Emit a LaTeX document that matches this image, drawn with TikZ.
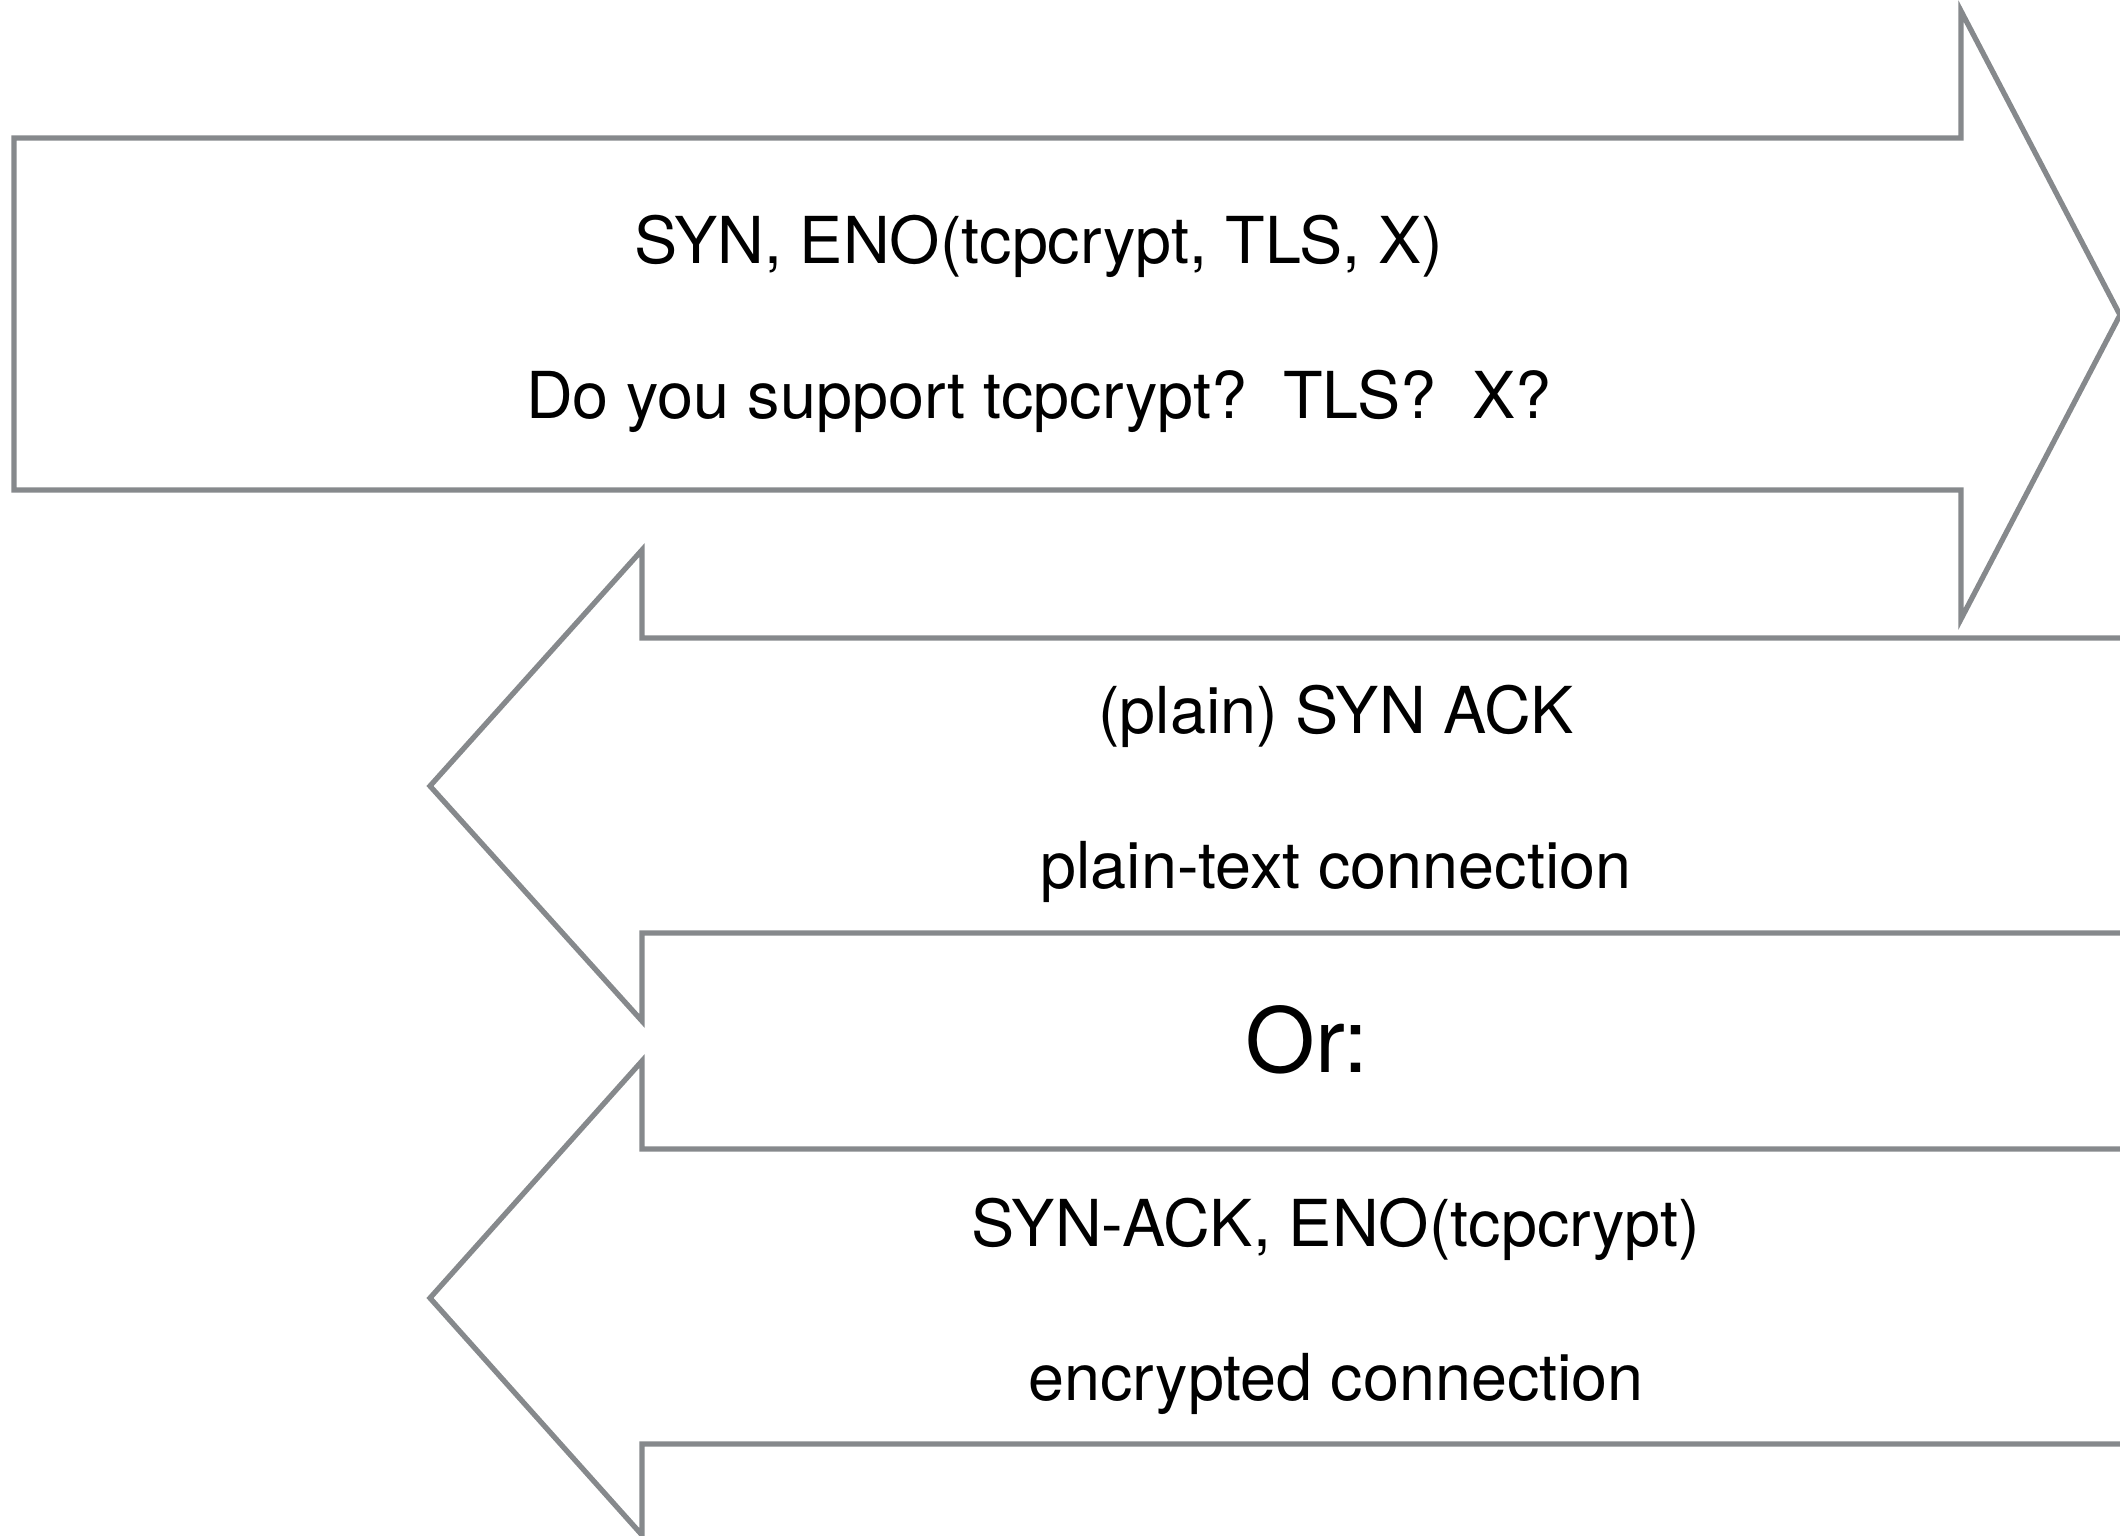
\documentclass[tikz,border=0pt]{standalone}
\usepackage{fontspec}
\setmainfont{TeX Gyre Heros}
\usepackage{tikz}

\definecolor{edgegray}{RGB}{134,137,140}
\tikzset{
  flow/.style={draw=edgegray,line width=1.5pt,line join=miter},
  msg/.style={anchor=base,inner sep=0pt,font=\fontsize{18.4}{22}\selectfont},
  bigmsg/.style={anchor=base,inner sep=0pt,font=\fontsize{25.5}{30}\selectfont}
}

\begin{document}
\begin{tikzpicture}[x=0.01cm,y=-0.01cm]
\useasboundingbox (0,0) rectangle (2120,1536);
\clip (0,0) rectangle (2120,1536);

% request, client to server
\draw [flow] (14,138) -- (1961,138) -- (1961,11) -- (2120,315) -- (1961,619) -- (1961,490) -- (14,490) -- cycle;
\node (syn) at (1039,263) [msg] {SYN, ENO(tcpcrypt, TLS, X)};
\node (ask) at (1039,418) [msg] {Do you support tcpcrypt?\ \ TLS?\ \ X?};

% first answer
\draw [flow] (2200,638) -- (642,638) -- (642,550) -- (430,786) -- (642,1021) -- (642,933) -- (2200,933);
\node (plainack) at (1336,733) [msg] {(plain) SYN ACK};
\node (plainconn) at (1336,888) [msg] {plain-text connection};

\node (or) at (1307,1072) [bigmsg] {Or:};

% second answer
\draw [flow] (2200,1149) -- (642,1149) -- (642,1061) -- (430,1298) -- (642,1535) -- (642,1444) -- (2200,1444);
\node (encack) at (1336,1246) [msg] {SYN-ACK, ENO(tcpcrypt)};
\node (encconn) at (1336,1400) [msg] {encrypted connection};

\end{tikzpicture}
\end{document}
